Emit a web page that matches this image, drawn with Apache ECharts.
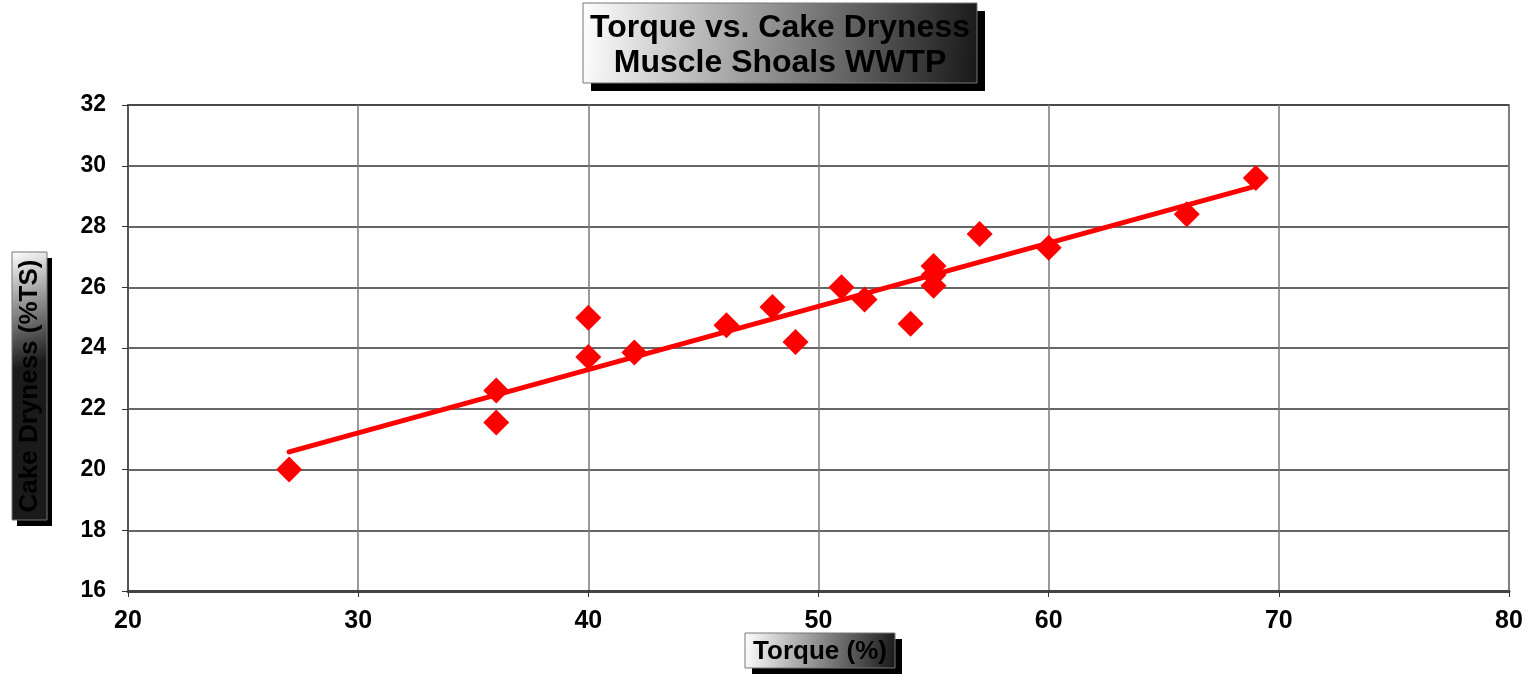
<!DOCTYPE html>
<html>
<head>
<meta charset="utf-8">
<script src="https://cdn.jsdelivr.net/npm/echarts@6/dist/echarts.min.js"></script>
<style>
  html, body { margin: 0; padding: 0; background: #fff; }
  #chart { width: 1531px; height: 676px; }
</style>
</head>
<body>
<div id="chart"></div>
<script>
// torque (%) vs cake dryness (%TS)
var torque = [27, 36, 36, 40, 40, 42, 46, 48, 49, 51, 52, 54, 55, 55, 55, 57, 60, 66, 69];
var dryness = [20.0, 22.6, 21.55, 25.0, 23.7, 23.85, 24.75, 25.35, 24.2, 26.0, 25.6, 24.8, 26.7, 26.4, 26.05, 27.75, 27.3, 28.4, 29.6];

// linear trend line end points
var trendX = [27, 69];
var trendY = [20.58, 29.33];

var xTicks = [20, 30, 40, 50, 60, 70, 80];
var yTicks = [16, 18, 20, 22, 24, 26, 28, 30, 32];

var font = '"Liberation Sans", Arial, sans-serif';

function boxGradient () {
  return new echarts.graphic.LinearGradient(0, 0, 1, 0.4, [
    { offset: 0, color: '#ffffff' },
    { offset: 1, color: '#1a1a1a' }
  ]);
}

// a shadowed label box with gradient fill
function labelBox (x, y, w, h, dx, dy, text, size, lh, rotate, ty) {
  var children = [
    { type: 'rect', shape: { x: x + dx, y: y + dy, width: w, height: h }, style: { fill: '#000' } },
    { type: 'rect', shape: { x: x, y: y, width: w, height: h }, style: { fill: boxGradient(), stroke: '#777', lineWidth: 1 } }
  ];
  children.push({
    type: 'text',
    x: x + w / 2 + (rotate ? ty : 0),
    y: y + h / 2 + (rotate ? 0 : ty),
    rotation: rotate ? Math.PI / 2 : 0,
    style: {
      text: text,
      font: 'bold ' + size + 'px ' + font,
      fill: '#000',
      align: 'center',
      verticalAlign: 'middle',
      lineHeight: lh
    }
  });
  return { type: 'group', children: children };
}

var chart = echarts.init(document.getElementById('chart'));

var pts = torque.map(function (t, i) { return [t, dryness[i]]; });
var trend = trendX.map(function (t, i) { return [t, trendY[i]]; });

chart.setOption({
  animation: false,
  grid: {
    left: 128,
    right: 22,
    top: 105,
    bottom: 85,
    show: true,
    borderColor: '#8a8a8a',
    borderWidth: 2
  },
  xAxis: {
    type: 'value',
    min: xTicks[0],
    max: xTicks[xTicks.length - 1],
    interval: 10,
    axisLine: { lineStyle: { color: '#444', width: 3 } },
    axisTick: { show: true, length: 6, lineStyle: { color: '#333' } },
    axisLabel: { color: '#000', fontFamily: font, fontWeight: 'bold', fontSize: 25, margin: 18 },
    splitLine: { show: true, lineStyle: { color: '#7a7a7a', width: 1.5 } }
  },
  yAxis: {
    type: 'value',
    min: yTicks[0],
    max: yTicks[yTicks.length - 1],
    interval: 2,
    axisLine: { show: true, lineStyle: { color: '#555', width: 2 } },
    axisTick: { show: true, length: 6, lineStyle: { color: '#333' } },
    axisLabel: { color: '#000', fontFamily: font, fontWeight: 'bold', fontSize: 23, margin: 22 },
    splitLine: { show: true, lineStyle: { color: '#333', width: 1.5 } }
  },
  series: [
    {
      type: 'scatter',
      data: pts,
      symbol: 'diamond',
      symbolSize: 26,
      itemStyle: { color: '#ff0000', opacity: 1 },
      z: 3
    },
    {
      type: 'line',
      data: trend,
      showSymbol: false,
      symbol: 'none',
      lineStyle: { color: '#ff0000', width: 5, cap: 'round' },
      z: 4
    }
  ],
  graphic: [
    labelBox(583, 3, 394, 80, 8, 8, 'Torque vs. Cake Dryness\nMuscle Shoals WWTP', 32, 35, false, 3),
    labelBox(12, 252, 35, 268, 5, 6, 'Cake Dryness (%TS)', 26, 30, true, 0),
    labelBox(745, 633, 150, 35, 7, 6, 'Torque (%)', 26, 30, false, 1)
  ]
});
</script>
</body>
</html>
